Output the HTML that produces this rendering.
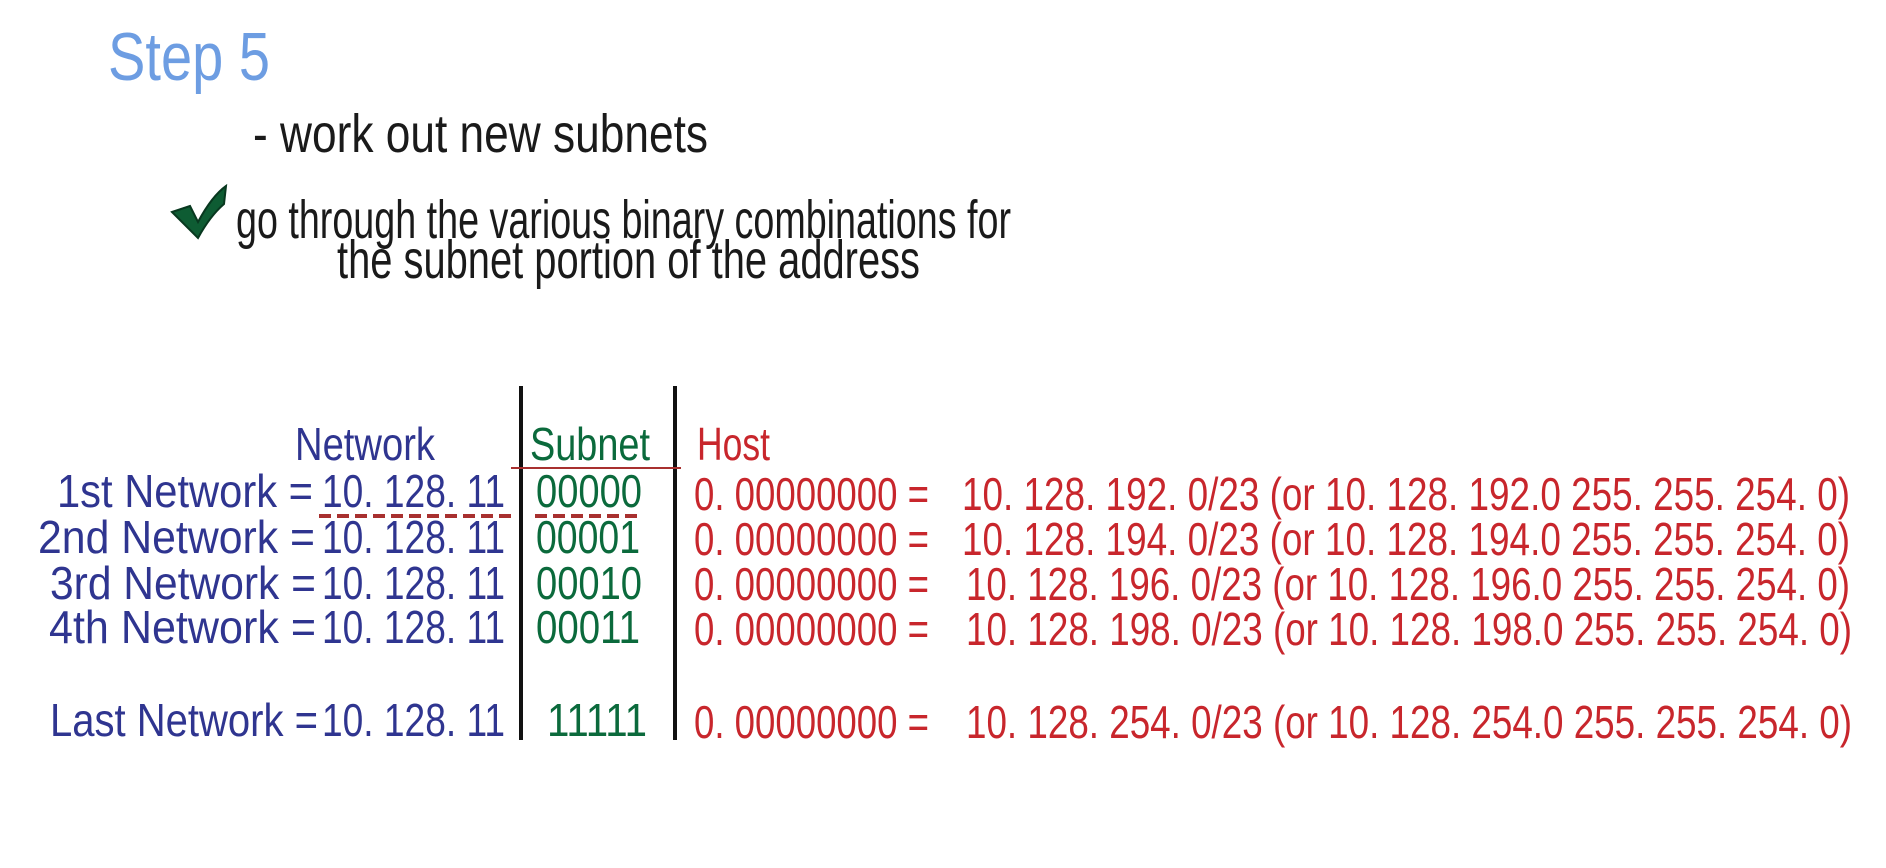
<!DOCTYPE html>
<html><head><meta charset="utf-8"><style>
html,body{margin:0;padding:0;background:#fff;}
svg{display:block;}
text{font-family:"Liberation Sans Narrow","Liberation Sans",sans-serif;}
.b{fill:#2f3590;font-size:46px;}
.g{fill:#0b6a3c;font-size:46px;}
.r{fill:#c8262c;font-size:46px;}
.h{fill:#1a1a1a;font-size:54px;}
</style></head><body>
<svg width="1886" height="868" viewBox="0 0 1886 868" xmlns="http://www.w3.org/2000/svg">
<text x="108" y="80" style="fill:#6d9de2;font-size:68px" textLength="162" lengthAdjust="spacingAndGlyphs">Step 5</text>
<text x="253" y="152" class="h" textLength="455" lengthAdjust="spacingAndGlyphs">- work out new subnets</text>
<path d="M172 212 L190 206 L198 222 Q212 196 226 186 L224 204 Q210 216 198 238 Z" fill="#0e5c33" stroke="#08381f" stroke-width="2"/>
<text x="236" y="238" class="h" textLength="775" lengthAdjust="spacingAndGlyphs">go through the various binary combinations for</text>
<text x="337" y="278" class="h" textLength="583" lengthAdjust="spacingAndGlyphs">the subnet portion of the address</text>
<line x1="521" y1="386" x2="521" y2="740" stroke="#111" stroke-width="4"/>
<line x1="675" y1="386" x2="675" y2="740" stroke="#111" stroke-width="4"/>
<line x1="511" y1="468" x2="681" y2="468" stroke="#a8302f" stroke-width="2"/>
<text x="295" y="460" class="b" textLength="140" lengthAdjust="spacingAndGlyphs">Network</text>
<text x="530" y="460" class="g" textLength="120" lengthAdjust="spacingAndGlyphs">Subnet</text>
<text x="697" y="460" class="r" textLength="73" lengthAdjust="spacingAndGlyphs">Host</text>
<g>
<text x="57" y="507" class="b" textLength="256" lengthAdjust="spacingAndGlyphs">1st Network =</text>
<text x="38" y="553" class="b" textLength="277" lengthAdjust="spacingAndGlyphs">2nd Network =</text>
<text x="50" y="599" class="b" textLength="266" lengthAdjust="spacingAndGlyphs">3rd Network =</text>
<text x="49" y="643" class="b" textLength="267" lengthAdjust="spacingAndGlyphs">4th Network =</text>
<text x="50" y="736" class="b" textLength="268" lengthAdjust="spacingAndGlyphs">Last Network =</text>
<text x="322" y="507" class="b" textLength="183" lengthAdjust="spacingAndGlyphs">10. 128. 11</text>
<text x="322" y="553" class="b" textLength="183" lengthAdjust="spacingAndGlyphs">10. 128. 11</text>
<text x="322" y="599" class="b" textLength="183" lengthAdjust="spacingAndGlyphs">10. 128. 11</text>
<text x="322" y="643" class="b" textLength="183" lengthAdjust="spacingAndGlyphs">10. 128. 11</text>
<text x="322" y="736" class="b" textLength="183" lengthAdjust="spacingAndGlyphs">10. 128. 11</text>
<line x1="319" y1="516" x2="511" y2="516" stroke="#a8302f" stroke-width="4" stroke-dasharray="12,6"/>
<line x1="535" y1="516" x2="642" y2="516" stroke="#a8302f" stroke-width="4" stroke-dasharray="12,6"/>
<text x="536" y="507" class="g" textLength="106" lengthAdjust="spacingAndGlyphs">00000</text>
<text x="536" y="553" class="g" textLength="104" lengthAdjust="spacingAndGlyphs">00001</text>
<text x="536" y="599" class="g" textLength="106" lengthAdjust="spacingAndGlyphs">00010</text>
<text x="536" y="643" class="g" textLength="104" lengthAdjust="spacingAndGlyphs">00011</text>
<text x="547" y="736" class="g" textLength="100" lengthAdjust="spacingAndGlyphs">11111</text>
<text x="694" y="510" class="r" textLength="235" lengthAdjust="spacingAndGlyphs">0. 00000000 =</text>
<text x="694" y="555" class="r" textLength="235" lengthAdjust="spacingAndGlyphs">0. 00000000 =</text>
<text x="694" y="600" class="r" textLength="235" lengthAdjust="spacingAndGlyphs">0. 00000000 =</text>
<text x="694" y="645" class="r" textLength="235" lengthAdjust="spacingAndGlyphs">0. 00000000 =</text>
<text x="694" y="738" class="r" textLength="235" lengthAdjust="spacingAndGlyphs">0. 00000000 =</text>
<text x="962" y="510" class="r" textLength="888" lengthAdjust="spacingAndGlyphs">10. 128. 192. 0/23 (or 10. 128. 192.0 255. 255. 254. 0)</text>
<text x="962" y="555" class="r" textLength="888" lengthAdjust="spacingAndGlyphs">10. 128. 194. 0/23 (or 10. 128. 194.0 255. 255. 254. 0)</text>
<text x="966" y="600" class="r" textLength="884" lengthAdjust="spacingAndGlyphs">10. 128. 196. 0/23 (or 10. 128. 196.0 255. 255. 254. 0)</text>
<text x="966" y="645" class="r" textLength="886" lengthAdjust="spacingAndGlyphs">10. 128. 198. 0/23 (or 10. 128. 198.0 255. 255. 254. 0)</text>
<text x="966" y="738" class="r" textLength="886" lengthAdjust="spacingAndGlyphs">10. 128. 254. 0/23 (or 10. 128. 254.0 255. 255. 254. 0)</text>
</g>
</svg>
</body></html>
